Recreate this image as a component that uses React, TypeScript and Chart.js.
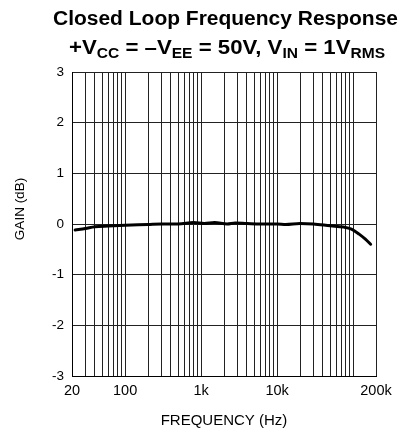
import React, { useEffect, useRef } from "react";
import { Chart, registerables } from "chart.js";

Chart.register(...registerables);

// ---- data ----
const freqs = [22, 30, 40, 60, 100, 200, 300, 500, 800, 1100, 1500, 2200, 2800, 4000, 6000, 10000, 13000, 20000, 30000, 50000, 75000, 95000, 120000, 145000, 170000];
const gains = [-0.12, -0.09, -0.055, -0.04, -0.025, -0.01, 0, 0, 0.03, 0.01, 0.03, 0, 0.02, 0.01, 0, 0, -0.01, 0.01, 0, -0.035, -0.06, -0.1, -0.2, -0.3, -0.4];
const xGridValues = [20, 30, 40, 50, 60, 70, 80, 90, 100, 200, 300, 400, 500, 600, 700, 800, 900, 1000, 2000, 3000, 4000, 5000, 6000, 7000, 8000, 9000, 10000, 20000, 30000, 40000, 50000, 60000, 70000, 80000, 90000, 100000, 200000];
const xLabelValues = [20, 100, 1000, 10000, 200000];
const xLabelTexts = ["20", "100", "1k", "10k", "200k"];
const yTickValues = [3, 2, 1, 0, -1, -2, -3];
const yTickTexts = ["3", "2", "1", "0", "-1", "-2", "-3"];
const titleLine1 = "Closed Loop Frequency Response";
const titleLine2: { t: string; sub?: boolean }[] = [
  { t: "+V" }, { t: "CC", sub: true }, { t: " = \u2013V" }, { t: "EE", sub: true },
  { t: " = 50V, V" }, { t: "IN", sub: true }, { t: " = 1V" }, { t: "RMS", sub: true },
];
const xTitle = "FREQUENCY (Hz)";
const yTitle = "GAIN (dB)";

const FONT = '"Liberation Sans", Arial, Helvetica, sans-serif';

const textPlugin = {
  id: "customText",
  afterDraw(chart: any) {
    const ctx = chart.ctx as CanvasRenderingContext2D;
    ctx.save();
    ctx.fillStyle = "#000";
    ctx.textBaseline = "alphabetic";
    // Title line 1
    ctx.font = `bold 20px ${FONT}`;
    const w1 = ctx.measureText(titleLine1).width;
    const target1 = 345;
    ctx.save();
    ctx.translate(225.5, 25);
    ctx.scale(target1 / w1, 1);
    ctx.textAlign = "center";
    ctx.fillText(titleLine1, 0, 0);
    ctx.restore();

    // Title line 2 with subscripts
    const mainFont = `bold 20px ${FONT}`;
    const subFont = `bold 14px ${FONT}`;
    let total = 0;
    const widths = titleLine2.map((s) => {
      ctx.font = s.sub ? subFont : mainFont;
      const w = ctx.measureText(s.t).width;
      total += w;
      return w;
    });
    const target2 = 316;
    const sx = target2 / total;
    ctx.save();
    ctx.translate(227 - target2 / 2, 54);
    ctx.scale(sx, 1);
    ctx.textAlign = "left";
    let x = 0;
    titleLine2.forEach((s, i) => {
      ctx.font = s.sub ? subFont : mainFont;
      ctx.fillText(s.t, x, s.sub ? 3.5 : 0);
      x += widths[i];
    });
    ctx.restore();

    // X title
    ctx.font = `15px ${FONT}`;
    ctx.textAlign = "center";
    ctx.textBaseline = "middle";
    ctx.fillText(xTitle, 224, 421);

    // Y title
    ctx.save();
    ctx.translate(20, 209);
    ctx.rotate(-Math.PI / 2);
    ctx.font = `13.5px ${FONT}`;
    ctx.fillText(yTitle, 0, 0);
    ctx.restore();
    ctx.restore();
  },
};

export default function App() {
  const ref = useRef<HTMLCanvasElement | null>(null);
  useEffect(() => {
    document.body.style.margin = "0";
    const canvas = ref.current!;
    const chart = new Chart(canvas, {
      type: "line",
      data: {
        datasets: [
          {
            data: freqs.map((f, i) => ({ x: f, y: gains[i] })),
            borderColor: "#000",
            borderWidth: 3,
            pointRadius: 0,
            cubicInterpolationMode: "monotone",
            borderCapStyle: "round",
            fill: false,
          },
        ],
      },
      options: {
        responsive: false,
        animation: false,
        devicePixelRatio: 1,
        layout: { padding: { top: 72, right: 31, left: 0, bottom: 0 } },
        plugins: { legend: { display: false }, tooltip: { enabled: false }, title: { display: false } },
        scales: {
          x: {
            type: "logarithmic",
            min: 20,
            max: 200000,
            afterBuildTicks: (scale: any) => {
              scale.ticks = xGridValues.map((v) => ({ value: v }));
            },
            afterFit: (scale: any) => {
              scale.height = 56;
            },
            ticks: {
              autoSkip: false,
              maxRotation: 0,
              minRotation: 0,
              padding: 6,
              color: "#000",
              font: { family: FONT, size: 14.5 },
              callback: (v: any) => {
                const idx = xLabelValues.indexOf(Number(v));
                return idx >= 0 ? xLabelTexts[idx] : "";
              },
            },
            grid: { color: "#222", lineWidth: 1, drawTicks: false },
            border: { color: "#000", width: 1 },
          },
          y: {
            type: "linear",
            min: -3,
            max: 3,
            afterBuildTicks: (scale: any) => {
              scale.ticks = yTickValues.map((v) => ({ value: v }));
            },
            afterFit: (scale: any) => {
              scale.width = 72;
            },
            ticks: {
              padding: 8,
              color: "#000",
              font: { family: FONT, size: 13.5 },
              callback: (v: any) => {
                const idx = yTickValues.indexOf(Number(v));
                return idx >= 0 ? yTickTexts[idx] : "";
              },
            },
            grid: { color: "#222", lineWidth: 1, drawTicks: false },
            border: { color: "#000", width: 1 },
          },
        },
      },
      plugins: [textPlugin],
    } as any);
    return () => chart.destroy();
  }, []);
  return <canvas ref={ref} width={407} height={432} style={{ display: "block" }} />;
}
